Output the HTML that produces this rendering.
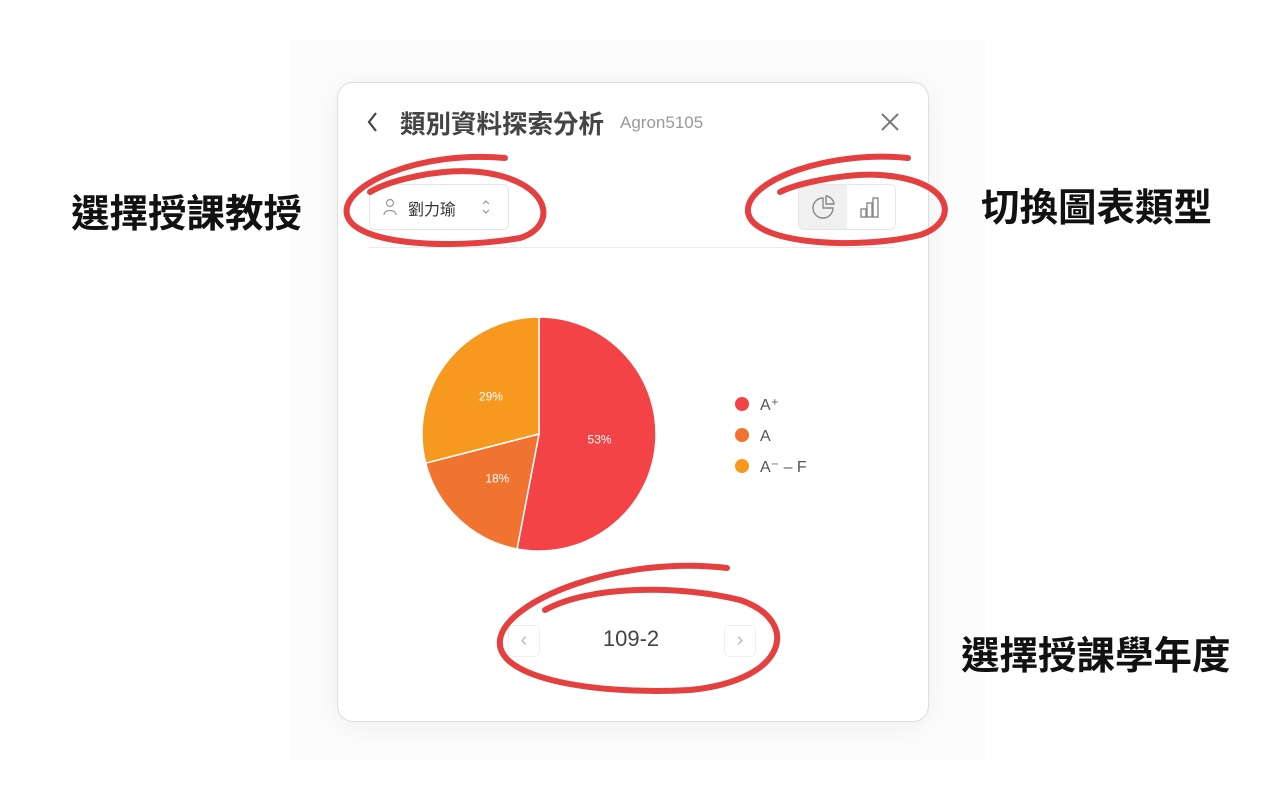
<!DOCTYPE html>
<html><head><meta charset="utf-8">
<style>
body{margin:0;width:1280px;height:800px;background:#fff;position:relative;overflow:hidden;font-family:"Liberation Sans","Noto Sans CJK TC",sans-serif;}
.bgshade{position:absolute;left:290px;top:40px;width:695px;height:720px;background:#fcfcfc;}
.card{position:absolute;left:337px;top:82px;width:590px;height:638px;background:#fff;border:1px solid #ddd;border-radius:16px;box-shadow:0 4px 30px rgba(0,0,0,0.06);}
.abs{position:absolute;}
.note{position:absolute;font-weight:bold;font-size:38.5px;color:#111;line-height:44px;}
</style></head><body>
<div class="bgshade"></div>
<div class="card"></div>
<svg class="abs" style="left:364px;top:110px;" width="16" height="24"><path d="M12 3 L5 12 L12 21" fill="none" stroke="#444" stroke-width="2.2"/></svg>
<div class="abs" style="left:400px;top:104px;font-size:25.5px;color:#444;font-weight:bold;">類別資料探索分析</div>
<div class="abs" style="left:620px;top:113px;font-size:17px;color:#999;">Agron5105</div>
<svg class="abs" style="left:880px;top:112px;" width="20" height="20"><path d="M2 2 L18 18 M18 2 L2 18" stroke="#777" stroke-width="2"/></svg>
<div class="abs" style="left:369px;top:184px;width:138px;height:44px;border:1px solid #e6e6e6;border-radius:6px;">
 <svg class="abs" style="left:13px;top:13px;" width="14" height="18"><circle cx="7" cy="5" r="3.5" fill="none" stroke="#999" stroke-width="1.2"/><path d="M1 17 C1 11 13 11 13 17" fill="none" stroke="#999" stroke-width="1.2"/></svg>
 <span class="abs" style="left:38px;top:11px;font-size:16px;color:#333;">劉力瑜</span>
 <svg class="abs" style="left:111px;top:14px;" width="10" height="16"><path d="M2 5 L5 2 L8 5 M2 11 L5 14 L8 11" fill="none" stroke="#999" stroke-width="1.2"/></svg>
</div>
<div class="abs" style="left:798px;top:184px;width:96px;height:44px;border:1px solid #e6e6e6;border-radius:6px;overflow:hidden;">
 <div class="abs" style="left:0;top:0;width:48px;height:44px;background:#f0f0f0;">
  <svg width="48" height="44"><path d="M24 13 A10 10 0 1 0 34 23 L24 23 Z" fill="none" stroke="#888" stroke-width="1.4"/><path d="M27 11 A9 9 0 0 1 35 19 L27 19 Z" fill="none" stroke="#888" stroke-width="1.4"/></svg></div>
 <div class="abs" style="left:48px;top:0;width:48px;height:44px;">
  <svg width="48" height="44"><rect x="14" y="24" width="5" height="8" fill="none" stroke="#888" stroke-width="1.4"/><rect x="20" y="18" width="5" height="14" fill="none" stroke="#888" stroke-width="1.4"/><rect x="26" y="13" width="5" height="19" fill="none" stroke="#888" stroke-width="1.4"/></svg></div>
</div>
<div class="abs" style="left:369px;top:247px;width:526px;height:1px;background:#ececec;"></div>
<svg id="pie" class="abs" style="left:0;top:0;" width="1280" height="800"></svg>
<div class="abs" style="left:508px;top:625px;width:30px;height:30px;border:1px solid #eee;border-radius:5px;color:#bbb;text-align:center;line-height:28px;font-size:20px;">‹</div>
<div class="abs" style="left:570px;top:626px;width:122px;text-align:center;font-size:22px;color:#444;">109-2</div>
<div class="abs" style="left:724px;top:625px;width:30px;height:30px;border:1px solid #eee;border-radius:5px;color:#bbb;text-align:center;line-height:28px;font-size:20px;">›</div>
<svg class="abs" style="left:0;top:0;pointer-events:none;" width="1280" height="800">
 <g fill="none" stroke="#e3403f" stroke-width="6" stroke-linecap="round">
  <path d="M505 158 C420 150 340 185 347 215 C355 245 450 250 520 238 C560 225 550 180 480 172 C440 168 390 180 370 192"/>
  <path d="M908 158 C830 150 745 180 748 212 C752 245 860 250 920 235 C960 222 955 180 880 175 C850 173 800 182 780 192"/>
  <path d="M727 568 C620 555 505 600 500 640 C495 680 600 695 690 690 C790 680 800 620 740 600 C680 585 590 585 545 610"/>
 </g>
</svg>
<div class="note" style="left:71px;top:193px;">選擇授課教授</div>
<div class="note" style="left:981px;top:187px;">切換圖表類型</div>
<div class="note" style="left:961px;top:635px;">選擇授課學年度</div>
<script>
const categories=["A⁺","A","A⁻ – F"];
const values=[53,18,29];
const colors=["#f44346","#f07430","#f7981f"];
const svg=document.getElementById('pie');
const NS="http://www.w3.org/2000/svg";
const cx=539,cy=434,r=117;
const total=values.reduce((a,b)=>a+b,0);
let ang=-Math.PI/2;
values.forEach((v,i)=>{
 const a0=ang,a1=ang+v/total*2*Math.PI;ang=a1;
 const p=document.createElementNS(NS,'path');
 const large=(a1-a0)>Math.PI?1:0;
 p.setAttribute('d',`M${cx} ${cy} L${cx+r*Math.cos(a0)} ${cy+r*Math.sin(a0)} A${r} ${r} 0 ${large} 1 ${cx+r*Math.cos(a1)} ${cy+r*Math.sin(a1)} Z`);
 p.setAttribute('fill',colors[i]);p.setAttribute('stroke','#fff');p.setAttribute('stroke-width','1.5');
 
 
 svg.appendChild(p);
 const m=(a0+a1)/2;
 const t=document.createElementNS(NS,'text');
 t.setAttribute('x',cx+r*0.52*Math.cos(m));t.setAttribute('y',cy+r*0.52*Math.sin(m)+4);
 t.setAttribute('text-anchor','middle');t.setAttribute('fill','#fff');t.setAttribute('font-size','12');
 t.setAttribute('font-family','Liberation Sans, sans-serif');
 t.textContent=v+'%';
 
 
 svg.appendChild(t);
 const c=document.createElementNS(NS,'circle');
 c.setAttribute('cx',742);c.setAttribute('cy',404+i*31);c.setAttribute('r',7);c.setAttribute('fill',colors[i]);
 
 
 svg.appendChild(c);
 const lt=document.createElementNS(NS,'text');
 lt.setAttribute('x',760);lt.setAttribute('y',410+i*31);lt.setAttribute('fill','#555');lt.setAttribute('font-size','16');
 lt.setAttribute('font-family','Liberation Sans, sans-serif');
 lt.textContent=categories[i];
 
 
 svg.appendChild(lt);
});
</script>
</body></html>
